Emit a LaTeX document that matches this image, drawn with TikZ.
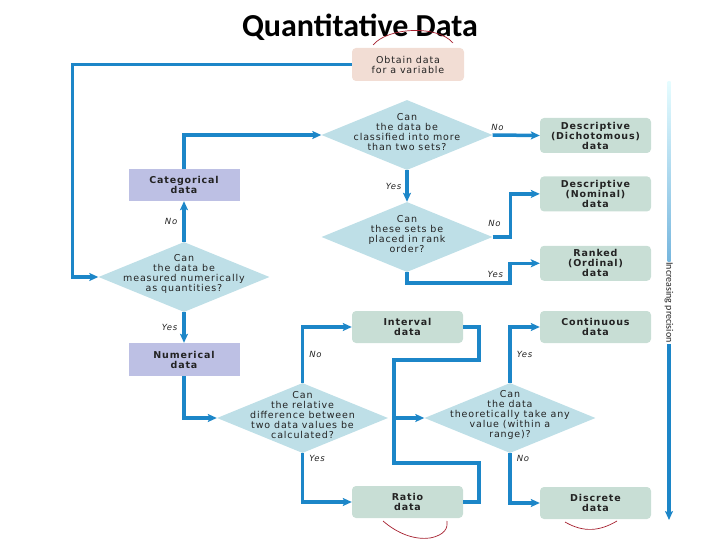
\documentclass[tikz,border=0pt]{standalone}
\usepackage{fontspec}
\setmainfont{DejaVu Sans}
\newfontfamily\titlefont{Carlito}
\newfontfamily\chartfont[LetterSpace=9]{DejaVu Sans}
\usetikzlibrary{shapes.geometric}
\usetikzlibrary{arrows.meta}
\usetikzlibrary{positioning}

\definecolor{flowblue}{RGB}{28,134,200}
\definecolor{askfill}{RGB}{190,223,231}
\definecolor{endfill}{RGB}{200,222,213}
\definecolor{kindfill}{RGB}{189,192,228}
\definecolor{startfill}{RGB}{242,221,212}
\definecolor{inkgray}{RGB}{35,35,35}
\definecolor{penred}{RGB}{165,30,45}

\begin{document}
\begin{tikzpicture}
[x = 1pt, y = -1pt,
font = \chartfont\fontsize{9.5}{10}\selectfont,
flow/.style = {-{Stealth[length = 9pt, width = 8pt, inset = 2pt]}, line width = 3.5pt, draw = flowblue},
link/.style = {line width = 3.5pt, draw = flowblue},
ask/.style = {diamond, fill = askfill, minimum width = 171pt, minimum height = 70pt, inner sep = 0pt},
asktext/.style = {align = center, text = inkgray, inner sep = 0pt, yshift = 3pt},
result/.style = {rectangle, rounded corners = 4pt, fill = endfill, minimum width = 111pt, minimum height = 32pt, inner sep = 1pt, align = center, text = inkgray, font = \chartfont\bfseries\fontsize{9.5}{10}\selectfont},
kind/.style = {rectangle, fill = kindfill, minimum width = 111pt, minimum height = 32pt, inner sep = 1pt, align = center, text = inkgray, font = \chartfont\bfseries\fontsize{9.5}{10}\selectfont},
answer/.style = {font = \chartfont\itshape\fontsize{8.5}{10}\selectfont, text = inkgray, inner sep = 1pt},
pen/.style = {draw = penred, line width = 0.7pt}]

\useasboundingbox (0, 0) rectangle (720, 540);

\node[font = \titlefont\bfseries\fontsize{32}{34}\selectfont] (title) at (360, 27) {Quantitative Data};

% start and questions
\node[result, fill = startfill, minimum width = 112pt, minimum height = 33pt, font = \chartfont\fontsize{9.5}{10}\selectfont] (obtain) at (408, 64.5) {Obtain data\\for a variable};
\node[ask] (sets) at (407, 135) {};
\node[asktext] at (sets) {Can\\the data be\\classified into more\\than two sets?};
\node[ask] (rank) at (407, 237) {};
\node[asktext] at (rank) {Can\\these sets be\\placed in rank\\order?};
\node[ask] (measure) at (184, 277) {};
\node[asktext] at (measure) {Can\\the data be\\measured numerically\\as quantities?};
\node[ask] (relative) at (302.5, 418) {};
\node[asktext] at (relative) {Can\\the relative\\difference between\\two data values be\\calculated?};
\node[ask] (range) at (510, 418) {};
\node[asktext] at (range) {Can\\the data\\theoretically take any\\value (within a\\range)?};

% kinds of data
\node[kind] (categorical) at (184, 185) {Categorical\\data};
\node[kind, minimum height = 33pt] (numerical) at (184, 359.5) {Numerical\\data};
\node[result, minimum height = 35pt] (dicho) at (595.5, 135.5) {Descriptive\\(Dichotomous)\\data};
\node[result, minimum height = 35pt] (nominal) [below = 23pt of dicho] {Descriptive\\(Nominal)\\data};
\node[result, minimum height = 35pt] (ordinal) [below = 34pt of nominal] {Ranked\\(Ordinal)\\data};
\node[result] (interval) at (407.5, 327) {Interval\\data};
\node[result] (ratio) at (407.5, 502) {Ratio\\data};
\node[result] (continuous) at (595.5, 327) {Continuous\\data};
\node[result] (discrete) at (595.5, 503) {Discrete\\data};

% connectors
\draw[flow] (obtain.west) -| ([xshift = -26pt] measure.west) -- (measure.west);
\draw[flow] (measure.north) -- node[answer, left = 4pt] {No} (categorical.south);
\draw[flow] (categorical.north) |- (sets.west);
\draw[flow] (sets.east) -- node[answer, above = 2pt, pos = 0.1] {No} (dicho.west);
\draw[flow] (sets.south) -- node[answer, left = 3pt] {Yes} (rank.north);
\draw[flow] (rank.east) -- node[answer, above = 8pt, pos = 0.1] {No} ++(18, 0) |- (nominal.west);
\draw[flow] (rank.south) |- ([xshift = -30pt, yshift = -19.5pt] ordinal.west) node[answer, above left = 2pt and 4pt] {Yes} |- (ordinal.west);
\draw[flow] (measure.south) -- node[answer, left = 4pt] {Yes} (numerical.north);
\draw[flow] (numerical.south) |- (relative.west);
\draw[flow] (relative.north) |- node[answer, right = 4pt, pos = 0.25] {No} (interval.west);
\draw[flow] (relative.south) |- node[answer, right = 4pt, pos = 0.05] {Yes} (ratio.west);
\coordinate (merge) at (394, 418);
\draw[link] (interval.east) -| ++(16, 33) -| (merge) |- ++(85, 45) |- (ratio.east);
\draw[flow] (merge) -- (range.west);
\draw[flow] (range.north) |- node[answer, right = 4pt, pos = 0.25] {Yes} (continuous.west);
\draw[flow] (range.south) |- node[answer, right = 4pt, pos = 0.05] {No} (discrete.west);

% precision scale
\coordinate (prectop) at (669, 82);
\coordinate (precend) at (669, 520);
\node[rotate = -90, inner sep = 1pt, text = inkgray, font = \titlefont\fontsize{10}{10}\selectfont] (precision) at (669, 302.5) {Increasing precision};
\shade[top color = blue!10!cyan!10, bottom color = flowblue!60] ([xshift = -1.5pt] prectop) rectangle ([xshift = 1.5pt] precision.west);
\draw[flow, line width = 3.5pt] (precision.east) -- (precend);

% pen marks
\draw[pen] (373, 45) .. controls (388, 27) and (438, 25) .. (453, 43);
\draw[pen] (383, 521) .. controls (398, 534) and (415, 540) .. (430, 538) .. controls (445, 535) and (448, 528) .. (447, 521);
\draw[pen] (565, 522) .. controls (584, 533) and (600, 531) .. (617, 521);
\end{tikzpicture}
\end{document}
